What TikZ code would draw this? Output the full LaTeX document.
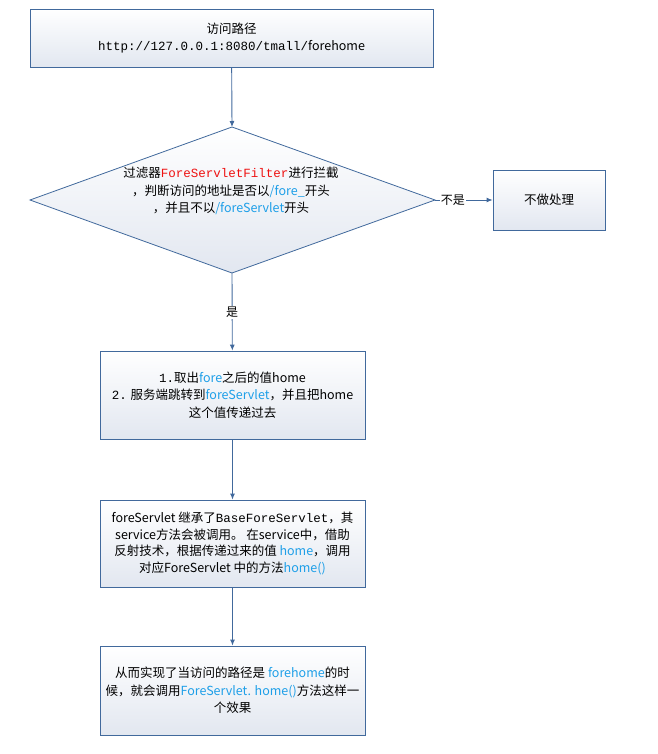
\documentclass[tikz,border=0pt]{standalone}
\usepackage{fontspec}
\setmainfont{Noto Sans CJK SC}
\newfontfamily\codefont{Liberation Mono}
\usetikzlibrary{arrows.meta}
\definecolor{edgeblue}{HTML}{41699C}
\definecolor{boxbottom}{HTML}{E2E7F0}
\definecolor{keyblue}{HTML}{1E9FE8}
\definecolor{keyred}{HTML}{EE1111}
\newcommand{\kw}[1]{\textcolor{keyblue}{#1}}
\newcommand{\code}[1]{{\codefont #1}}
\tikzset{
	stepbox/.style={draw=edgeblue, line width=0.8pt, top color=white, bottom color=boxbottom,
		align=center, inner sep=2pt, minimum width=265pt},
	decision/.style={draw=edgeblue, line width=0.8pt, top color=white, bottom color=boxbottom},
	flow/.style={draw=edgeblue, line width=0.9pt, -{Latex[length=6pt,width=5pt]}},
	answer/.style={fill=white, inner sep=1pt, font=\fontsize{12}{14}\selectfont}
}

\begin{document}
\begin{tikzpicture}[x=1pt,y=-1pt,font=\fontsize{12.5}{17.5}\selectfont]
	\useasboundingbox (0,0) rectangle (657,754);

	\node[stepbox, minimum width=403pt, minimum height=58pt] (url) at (231.5,38)
		{访问路径\\\code{http://127.0.0.1:8080/tmall/}forehome};

	% decision diamond
	\coordinate (ftop) at (232,127);
	\coordinate (fleft) at (30,200);
	\coordinate (fright) at (435,200);
	\coordinate (fbottom) at (232,273);
	\path[decision] (ftop) -- (fright) -- (fbottom) -- (fleft) -- cycle;
	\node[align=center, inner sep=0pt] (filtertext) at (231,191)
		{过滤器\textcolor{keyred}{\code{ForeServletFilter}}进行拦截\\
		，判断访问的地址是否以\kw{/fore\_}开头\\
		，并且不以\kw{/foreServlet}开头};

	\node[stepbox, minimum width=112pt, minimum height=60pt] (skip) at (549,200) {不做处理};

	\node[stepbox, minimum height=88pt] (parse) at (232.5,395)
		{\code{1.}取出\kw{fore}之后的值home\\
		\code{2.} 服务端跳转到\kw{foreServlet}，并且把home\\
		这个值传递过去};

	\node[stepbox, minimum height=87pt, font=\fontsize{12.5}{16.8}\selectfont] (servlet) at (232.5,543.5)
		{foreServlet 继承了\code{BaseForeServlet}，其\\
		service方法会被调用。 在service中，借助\\
		反射技术，根据传递过来的值 \kw{home}，调用\\
		对应ForeServlet 中的方法\kw{home()}};

	\node[stepbox, minimum height=89pt] (result) at (232.5,690.5)
		{从而实现了当访问的路径是 \kw{forehome}的时\\
		候，就会调用\kw{ForeServlet. home()}方法这样一\\
		个效果};

	\draw[flow] (url) -- (ftop);
	\draw[flow] (fright) -- node[answer, pos=0.31] {不是} (skip);
	\draw[flow] (fbottom) -- node[answer, pos=0.51] {是} (parse);
	\draw[flow] (parse) -- (servlet);
	\draw[flow] (servlet) -- (result);
\end{tikzpicture}
\end{document}
